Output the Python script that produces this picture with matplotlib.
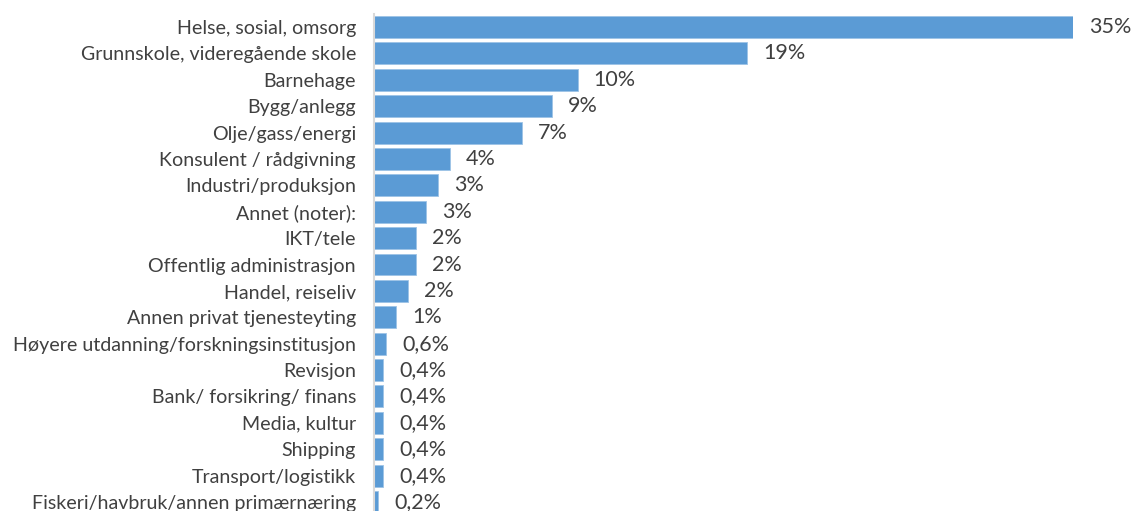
import matplotlib.pyplot as plt
import numpy as np

categories = [
    "Helse, sosial, omsorg",
    "Grunnskole, videregående skole",
    "Barnehage",
    "Bygg/anlegg",
    "Olje/gass/energi",
    "Konsulent / rådgivning",
    "Industri/produksjon",
    "Annet (noter):",
    "IKT/tele",
    "Offentlig administrasjon",
    "Handel, reiseliv",
    "Annen privat tjenesteyting",
    "Høyere utdanning/forskningsinstitusjon",
    "Revisjon",
    "Bank/ forsikring/ finans",
    "Media, kultur",
    "Shipping",
    "Transport/logistikk",
    "Fiskeri/havbruk/annen primærnæring",
]
values = [35.0, 18.7, 10.2, 8.9, 7.4, 3.8, 3.2, 2.6, 2.1, 2.1, 1.7, 1.1, 0.6,
          0.45, 0.45, 0.45, 0.45, 0.45, 0.2]
value_labels = ["35%", "19%", "10%", "9%", "7%", "4%", "3%", "3%", "2%", "2%",
                "2%", "1%", "0,6%", "0,4%", "0,4%", "0,4%", "0,4%", "0,4%", "0,2%"]

plt.rcParams['font.family'] = ['Lato', 'DejaVu Sans']
text_color = '#404040'

W, H = 1133, 511
fig = plt.figure(figsize=(W / 100, H / 100), dpi=100)
pitch = 26.4
top = 27 - pitch / 2
bottom = 502 + pitch / 2
ax = fig.add_axes([374 / W, 1 - bottom / H, (1073 - 374) / W, (bottom - top) / H])

y = np.arange(len(categories))
bars = ax.barh(y, values, height=0.83, color='#5B9BD5', edgecolor='#9DC3E6', linewidth=0.6)
ax.set_xlim(0, 35.0)
ax.set_ylim(len(categories) - 0.5, -0.5)

ax.set_yticks(y)
ax.set_yticklabels(categories, fontsize=14.1, color=text_color)
ax.tick_params(axis='y', length=0, pad=13)
ax.set_xticks([])

for s in ['top', 'right', 'bottom']:
    ax.spines[s].set_visible(False)
ax.spines['left'].set_color('#D9D9D9')
ax.spines['left'].set_linewidth(1.5)

for bar, lab in zip(bars, value_labels):
    ax.annotate(lab, (bar.get_width(), bar.get_y() + bar.get_height() / 2),
                xytext=(16, 0), textcoords='offset pixels', ha='left', va='center',
                fontsize=15.5, color=text_color, annotation_clip=False)

fig.savefig("out.png", dpi=100)
